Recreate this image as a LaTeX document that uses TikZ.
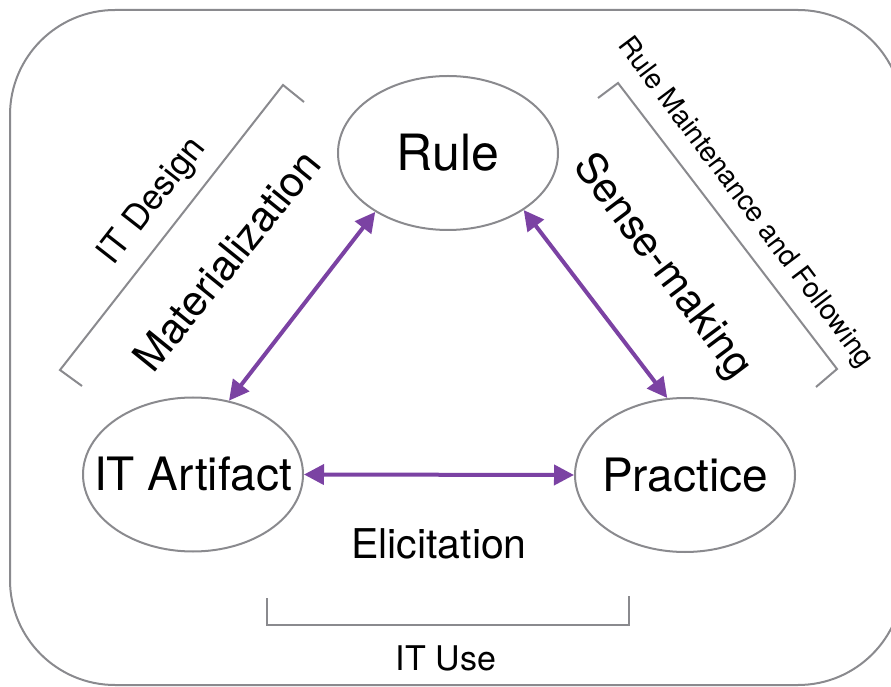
\documentclass[tikz,border=0pt]{standalone}
\usepackage{fontspec}
\setmainfont{TeX Gyre Heros}
\usetikzlibrary{shapes.geometric,arrows.meta}
\definecolor{linkpurple}{RGB}{123,66,163}
\definecolor{framegray}{RGB}{138,138,142}
\begin{document}
\begin{tikzpicture}[x=1pt,y=1pt,
  concept/.style={ellipse,draw=framegray,line width=2pt,minimum width=220pt,
    minimum height=154pt,inner sep=0pt,font=\fontsize{46}{50}\selectfont},
  link/.style={linkpurple,line width=4pt,
    {Triangle[length=20pt,width=20pt]}-{Triangle[length=20pt,width=20pt]}},
  bracket/.style={framegray,line width=2pt},
  flow/.style={font=\fontsize{42}{46}\selectfont},
  span/.style={font=\fontsize{35}{40}\selectfont}]

  \useasboundingbox (0,0) rectangle (891,686);
  % outer frame, runs past the right edge
  \draw[bracket,rounded corners=105pt] (10,1) rectangle (903,676);

  \node[concept,font=\fontsize{50}{55}\selectfont] (rule) at (448,533) {\makebox[0pt]{Rule}};
  \node[concept] (artifact) at (193,211.5) {\makebox[0pt]{IT Artifact}};
  \node[concept] (practice) at (685,211) {\makebox[0pt]{Practice}};

  \draw[link] (artifact.64) -- (rule.219);
  \draw[link] (rule.323) -- (practice.103);
  \draw[link] (artifact.east) -- (practice.west);

  \node[flow,rotate=51,anchor=base] (mat) at (238,416) {Materialization};
  \node[flow,rotate=-53] (sense) at (662,419) {Sense-making};
  \node[flow,font=\fontsize{41}{46}\selectfont,anchor=base] (elic) at (439,128) {Elicitation};

  % brackets
  \draw[bracket] (82,300) -- (60,316) -- (283,601) -- (304,584);
  \draw[bracket] (598,588) -- (618,603) -- (837,317) -- (816,299);
  \draw[bracket] (267,88) -- (267,61) -- (629,61) -- (629,90);

  \node[span,rotate=52,anchor=base] (design) at (160,479) {IT Design};
  \node[font=\fontsize{28}{32}\selectfont,rotate=-53] (maint) at (745,483) {Rule Maintenance and Following};
  \node[span,font=\fontsize{34}{40}\selectfont,anchor=base] (use) at (446,16) {IT Use};
\end{tikzpicture}
\end{document}
